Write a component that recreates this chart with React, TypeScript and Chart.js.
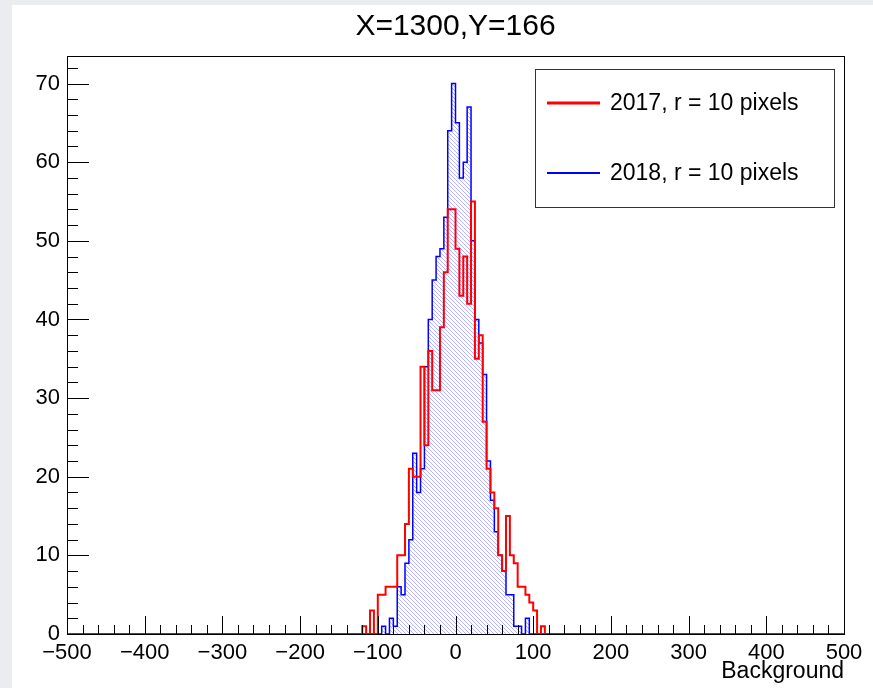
import React, { useEffect, useRef } from 'react';
import { Chart, registerables } from 'chart.js';

Chart.register(...registerables);

// ---------------- data ----------------
const TITLE = 'X=1300,Y=166';
const X_TITLE = 'Background';
const LABEL_2017 = '2017, r = 10 pixels';
const LABEL_2018 = '2018, r = 10 pixels';

const X_MIN = -500;
const X_MAX = 500;
const BIN_WIDTH = 5;
const FIRST_LISTED_EDGE = -120; // left edge of the first listed bin below
const Y_MAX = 73.5;

// counts per 5-unit bin, starting at -120
const COUNTS_2017 = [
  1, 0, 3, 0, 5, 5, 6, 6, 6, 10,
  10, 14, 21, 20, 20, 34, 24, 36, 31, 31,
  39, 46, 54, 54, 49, 43, 48, 42, 55, 35,
  38, 27, 21, 18, 16, 10, 8, 15, 10, 9,
  6, 6, 5, 4, 3, 0, 1,
];
const COUNTS_2018 = [
  0, 0, 0, 0, 0, 1, 0, 2, 1, 6,
  5, 9, 12, 23, 18, 21, 34, 40, 45, 48,
  49, 53, 64, 70, 65, 58, 60, 67, 50, 40,
  37, 33, 22, 17, 13, 10, 8, 5, 5, 1,
  1, 0, 2, 0, 0, 0, 0,
];

const X_TICKS = [-500, -400, -300, -200, -100, 0, 100, 200, 300, 400, 500];
const Y_TICKS = [0, 10, 20, 30, 40, 50, 60, 70];
const X_MINOR_STEP = 20;
const Y_MINOR_STEP = 2;

// ---------------- helpers ----------------
function toSteps(counts: number[]) {
  const nBins = (X_MAX - X_MIN) / BIN_WIDTH;
  const offset = (FIRST_LISTED_EDGE - X_MIN) / BIN_WIDTH;
  const pts: { x: number; y: number }[] = [];
  for (let i = 0; i <= nBins; i++) {
    const k = i - offset;
    const v = i < nBins && k >= 0 && k < counts.length ? counts[k] : 0;
    pts.push({ x: X_MIN + i * BIN_WIDTH, y: v });
  }
  return pts;
}

function makeHatch(): CanvasPattern | string {
  const c = document.createElement('canvas');
  c.width = 4;
  c.height = 4;
  const g = c.getContext('2d');
  if (!g) return 'rgba(80,80,255,0.25)';
  g.fillStyle = 'rgba(50,50,255,0.36)';
  for (let i = 0; i < 4; i++) g.fillRect(i, i, 1, 1);
  return g.createPattern(c, 'repeat') || 'rgba(80,80,255,0.25)';
}

const FONT = '"Liberation Sans", Arial, Helvetica, sans-serif';
const fmt = (v: number) => (v < 0 ? '\u2212' + Math.abs(v) : String(v));

const framePlugin = {
  id: 'rootFrame',
  beforeDatasetsDraw(chart: any) {
    const { ctx, chartArea: a } = chart;
    ctx.save();
    ctx.strokeStyle = '#000';
    ctx.lineWidth = 1;
    ctx.strokeRect(Math.round(a.left) + 0.5, Math.round(a.top) + 0.5, Math.round(a.right - a.left), Math.round(a.bottom - a.top));
    ctx.restore();
  },
  afterDatasetsDraw(chart: any) {
    const { ctx, chartArea: a, scales } = chart;
    const xs = scales.x;
    const ys = scales.y;
    ctx.save();
    ctx.strokeStyle = '#000';
    ctx.lineWidth = 1;
    ctx.beginPath();
    // x ticks (inside, upward)
    for (let v = X_MIN; v <= X_MAX + 1e-9; v += X_MINOR_STEP) {
      const px = Math.round(xs.getPixelForValue(v)) + 0.5;
      const major = X_TICKS.includes(v);
      const len = major ? 18 : 9;
      ctx.moveTo(px, a.bottom);
      ctx.lineTo(px, a.bottom - len);
    }
    // y ticks (inside, rightward)
    for (let v = 0; v <= Y_MAX + 1e-9; v += Y_MINOR_STEP) {
      const py = Math.round(ys.getPixelForValue(v)) + 0.5;
      const major = Y_TICKS.includes(v);
      const len = major ? 22 : 11;
      ctx.moveTo(a.left, py);
      ctx.lineTo(a.left + len, py);
    }
    ctx.stroke();

    // legend box
    const bx = 535.5, by = 69.5, bw = 299, bh = 138;
    ctx.fillStyle = '#fff';
    ctx.fillRect(bx, by, bw, bh);
    ctx.strokeStyle = '#333';
    ctx.lineWidth = 1;
    ctx.strokeRect(bx, by, bw, bh);
    const ds = chart.data.datasets;
    const rows = [103, 173];
    ds.forEach((d: any, i: number) => {
      const y = rows[i];
      ctx.strokeStyle = d.borderColor;
      ctx.lineWidth = i === 0 ? 3 : 2;
      ctx.beginPath();
      ctx.moveTo(547, y);
      ctx.lineTo(600, y);
      ctx.stroke();
      ctx.fillStyle = '#000';
      ctx.font = '23px ' + FONT;
      ctx.textAlign = 'left';
      ctx.textBaseline = 'middle';
      ctx.fillText(d.label, 610, y + 1);
    });
    ctx.restore();
  },
};

export default function App() {
  const ref = useRef<HTMLCanvasElement | null>(null);

  useEffect(() => {
    if (!ref.current) return;
    const hatch = makeHatch();
    const chart = new Chart(ref.current, {
      type: 'line',
      data: {
        datasets: [
          {
            label: LABEL_2017,
            data: toSteps(COUNTS_2017),
            borderColor: '#ff0000',
            borderWidth: 2,
            stepped: true,
            pointRadius: 0,
            fill: false,
          },
          {
            label: LABEL_2018,
            data: toSteps(COUNTS_2018),
            borderColor: '#0000ff',
            borderWidth: 1.5,
            backgroundColor: hatch as any,
            stepped: true,
            pointRadius: 0,
            fill: 'origin',
          },
        ],
      },
      options: {
        responsive: false,
        animation: false,
        devicePixelRatio: 1,
        layout: { padding: { left: 0, right: 29, top: 0, bottom: 0 } },
        plugins: {
          legend: { display: false },
          tooltip: { enabled: false },
          title: {
            display: true,
            fullSize: false,
            text: TITLE,
            color: '#000',
            font: { family: FONT, size: 30, weight: 'normal' },
            padding: { top: 9, bottom: 11 },
          },
        },
        scales: {
          x: {
            type: 'linear',
            min: X_MIN,
            max: X_MAX,
            afterFit: (s: any) => {
              s.height = 54;
            },
            grid: { display: false, drawTicks: false },
            border: { display: false },
            ticks: {
              stepSize: 100,
              autoSkip: false,
              maxRotation: 0,
              includeBounds: false,
              padding: 6,
              color: '#000',
              font: { family: FONT, size: 22 },
              callback: (v: any) => fmt(Number(v)),
            },
            title: {
              display: true,
              text: X_TITLE,
              align: 'end',
              color: '#000',
              font: { family: FONT, size: 23 },
              padding: { top: 0, bottom: 3 },
            },
          },
          y: {
            type: 'linear',
            min: 0,
            max: Y_MAX,
            afterFit: (s: any) => {
              s.width = 67;
            },
            grid: { display: false, drawTicks: false },
            border: { display: false },
            ticks: {
              stepSize: 10,
              includeBounds: false,
              padding: 7,
              color: '#000',
              font: { family: FONT, size: 22 },
              callback: (v: any) => fmt(Number(v)),
            },
          },
        },
      } as any,
      plugins: [framePlugin],
    });
    return () => chart.destroy();
  }, []);

  return (
    <div style={{ position: 'fixed', left: 0, top: 0, width: 873, height: 688, background: '#ebecf0', overflow: 'hidden' }}>
      <div style={{ position: 'absolute', left: 12, top: 5, right: 0, bottom: 0, background: '#fff' }} />
      <canvas ref={ref} width={873} height={688} style={{ position: 'absolute', left: 0, top: 0, display: 'block' }} />
    </div>
  );
}
